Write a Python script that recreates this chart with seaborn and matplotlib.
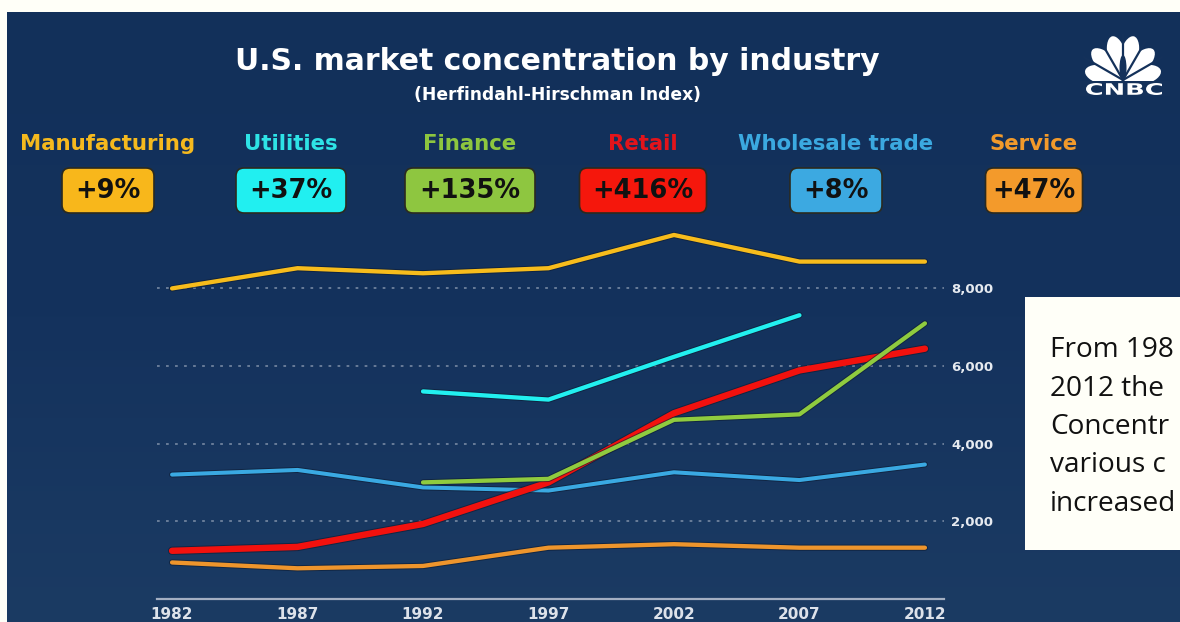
import numpy as np
import pandas as pd
import matplotlib
matplotlib.use("Agg")
import matplotlib.pyplot as plt
import matplotlib.patheffects as pe
from matplotlib.patches import FancyBboxPatch, Rectangle, Ellipse, PathPatch
from matplotlib.colors import LinearSegmentedColormap
from matplotlib.ticker import FuncFormatter
from matplotlib.textpath import TextPath
from matplotlib.font_manager import FontProperties
from matplotlib.transforms import Affine2D
import seaborn as sns

# ---------------- data ----------------
years = [1982, 1987, 1992, 1997, 2002, 2007, 2012]
industries = ["Manufacturing", "Utilities", "Finance", "Retail", "Wholesale trade", "Service"]
changes = ["+9%", "+37%", "+135%", "+416%", "+8%", "+47%"]
manufacturing = [7990, 8510, 8380, 8510, 9365, 8680, 8680]
utilities = [np.nan, np.nan, 5340, 5130, 6230, 7300, np.nan]
finance = [np.nan, np.nan, 3000, 3090, 4610, 4750, 7090]
retail = [1240, 1340, 1930, 3000, 4780, 5880, 6440]
wholesale = [3200, 3320, 2870, 2790, 3260, 3060, 3460]
service = [940, 790, 850, 1320, 1410, 1320, 1320]
y_ticks = [2000, 4000, 6000, 8000]
# only the part of the note that is visible in the frame
note_lines = ["From 198", "2012 the", "Concentr", "various c", "increased"]

series = [manufacturing, utilities, finance, retail, wholesale, service]
df = pd.DataFrame({
    "year": years * len(industries),
    "industry": [name for name in industries for _ in years],
    "hhi": [v for s in series for v in s],
}).dropna()

line_colors = {"Manufacturing": "#F7BC1C", "Utilities": "#22F0F0", "Finance": "#8FCB3F",
               "Retail": "#F2110E", "Wholesale trade": "#3AA9E2", "Service": "#EE952C"}
label_colors = {"Manufacturing": "#F5B91E", "Utilities": "#2EE3E6", "Finance": "#8DC63F",
                "Retail": "#E3141B", "Wholesale trade": "#3BA9E0", "Service": "#F29A2B"}
box_colors = {"Manufacturing": "#F8B71B", "Utilities": "#21EFF0", "Finance": "#8EC640",
              "Retail": "#F5170C", "Wholesale trade": "#3CA9E1", "Service": "#F39A2B"}
line_widths = {"Manufacturing": 3.1, "Utilities": 3.1, "Finance": 3.1,
               "Retail": 4.6, "Wholesale trade": 2.9, "Service": 3.1}
draw_order = ["Wholesale trade", "Service", "Manufacturing", "Utilities", "Retail", "Finance"]

sns.set_theme(style="white")
plt.rcParams["font.family"] = ["DejaVu Sans"]

W, H = 1180, 622
NAVY = "#14315A"
fig = plt.figure(figsize=(W / 100, H / 100), dpi=100)
fig.patch.set_facecolor("#FFFFF8")

# ---------------- overlay (pixel coordinates) ----------------
ov = fig.add_axes([0, 0, 1, 1], zorder=0)
grad = np.linspace(0, 1, 256).reshape(-1, 1)
cmap = LinearSegmentedColormap.from_list("bg", ["#12305A", "#14325D", "#1B3B63"])
ov.imshow(grad, cmap=cmap, aspect="auto", extent=(7, W, H, 12), zorder=0)
ov.set_xlim(0, W)
ov.set_ylim(H, 0)
ov.axis("off")

ov.text(557, 62, "U.S. market concentration by industry", color="white", fontsize=21.5,
        fontweight="bold", ha="center", va="center")
ov.text(557, 95, "(Herfindahl-Hirschman Index)", color="white", fontsize=12.3,
        fontweight="semibold", ha="center", va="center")

centers = [108, 291, 470, 643, 836, 1034]
box_w = [92, 110, 130, 127, 92, 97]
for name, chg, cx, bw in zip(industries, changes, centers, box_w):
    ov.text(cx, 144, name, color=label_colors[name], fontsize=15.3, fontweight="bold",
            ha="center", va="center")
    box = FancyBboxPatch((cx - bw / 2, 168), bw, 45,
                         boxstyle="round,pad=0,rounding_size=8",
                         facecolor=box_colors[name], edgecolor="#2A2A20", linewidth=1.2, zorder=3)
    ov.add_patch(box)
    ov.text(cx, 191, chg, color="#111111", fontsize=18.5, fontweight="bold",
            ha="center", va="center", zorder=4)

# CNBC logo (simplified peacock)
lx, ly = 1123, 80
for ang, ln in zip([166, 135, 104, 76, 45, 14], [38, 42, 44, 44, 42, 38]):
    r = ln / 2 + 1
    ex = lx + r * np.cos(np.radians(ang))
    ey = ly - r * np.sin(np.radians(ang))
    ov.add_patch(Ellipse((ex, ey), ln, 19, angle=-ang, facecolor="white", edgecolor="none", zorder=3))
for ang in [150, 120, 90, 60, 30]:
    ov.plot([lx, lx + 46 * np.cos(np.radians(ang))], [ly, ly - 46 * np.sin(np.radians(ang))],
            color=NAVY, linewidth=1.6, zorder=4, solid_capstyle="butt")
ov.add_patch(Ellipse((lx, ly - 12), 7, 26, facecolor=NAVY, edgecolor="none", zorder=5))
ov.add_patch(Rectangle((1080, 81), 90, 15, facecolor=NAVY, edgecolor="none", zorder=5))
tp = TextPath((0, 0), "CNBC", size=12, prop=FontProperties(family="DejaVu Sans", weight="bold"))
bb = tp.get_extents()
sx = 76 / bb.width
sy = 12 / bb.height
tr = Affine2D().translate(-bb.x0, -bb.y0).scale(sx, -sy).translate(1086, 95)
ov.add_patch(PathPatch(tr.transform_path(tp), facecolor="white", edgecolor="none", zorder=6))

# white note box
ov.add_patch(Rectangle((1025, 297), 170, 253, facecolor="#FFFFF8", edgecolor="none", zorder=3))
for i, line in enumerate(note_lines):
    ov.text(1050, 350 + i * 38.5, line, color="#111111", fontsize=20.2,
            family=["Open Sans", "DejaVu Sans"], ha="left", va="center", zorder=4)

# ---------------- main chart ----------------
ax = fig.add_axes([157 / W, 23 / H, 787 / W, 379 / H], zorder=1)
ax.set_facecolor("none")
for name in draw_order:
    sub = df[df["industry"] == name]
    lw = line_widths[name]
    sns.lineplot(data=sub, x="year", y="hhi", color=line_colors[name], linewidth=lw,
                 estimator=None, legend=False, ax=ax, zorder=3,
                 solid_capstyle="round", solid_joinstyle="round",
                 path_effects=[pe.Stroke(linewidth=lw + 1.4, foreground="#0C1A30", alpha=0.6), pe.Normal()])

ax.set_xlim(1981.4, 2012.76)
ax.set_ylim(0, 9750)
ax.set_xlabel("")
ax.set_ylabel("")
for s in ["top", "left", "right"]:
    ax.spines[s].set_visible(False)
ax.spines["bottom"].set_color("#A3AFC2")
ax.spines["bottom"].set_linewidth(1.6)

ax.set_xticks(years)
ax.set_xticklabels([str(y) for y in years])
ax.tick_params(axis="x", direction="inout", length=8, width=1.4, colors="#A3AFC2",
               labelcolor="#DDE2EA", labelsize=11, pad=1.5)
for t in ax.get_xticklabels():
    t.set_fontweight("bold")

ax.yaxis.tick_right()
ax.set_yticks(y_ticks)
ax.yaxis.set_major_formatter(FuncFormatter(lambda v, p: f"{int(v):,}"))
ax.tick_params(axis="y", length=0, pad=5, labelsize=9.5, labelcolor="#E6EAF0")
for t in ax.get_yticklabels():
    t.set_fontweight("bold")
ax.grid(axis="y", linestyle=(0, (1.5, 3.5)), color="#8595AD", linewidth=1.3, alpha=0.8)
ax.grid(axis="x", visible=False)

fig.savefig("out.png", dpi=100, facecolor=fig.get_facecolor())
